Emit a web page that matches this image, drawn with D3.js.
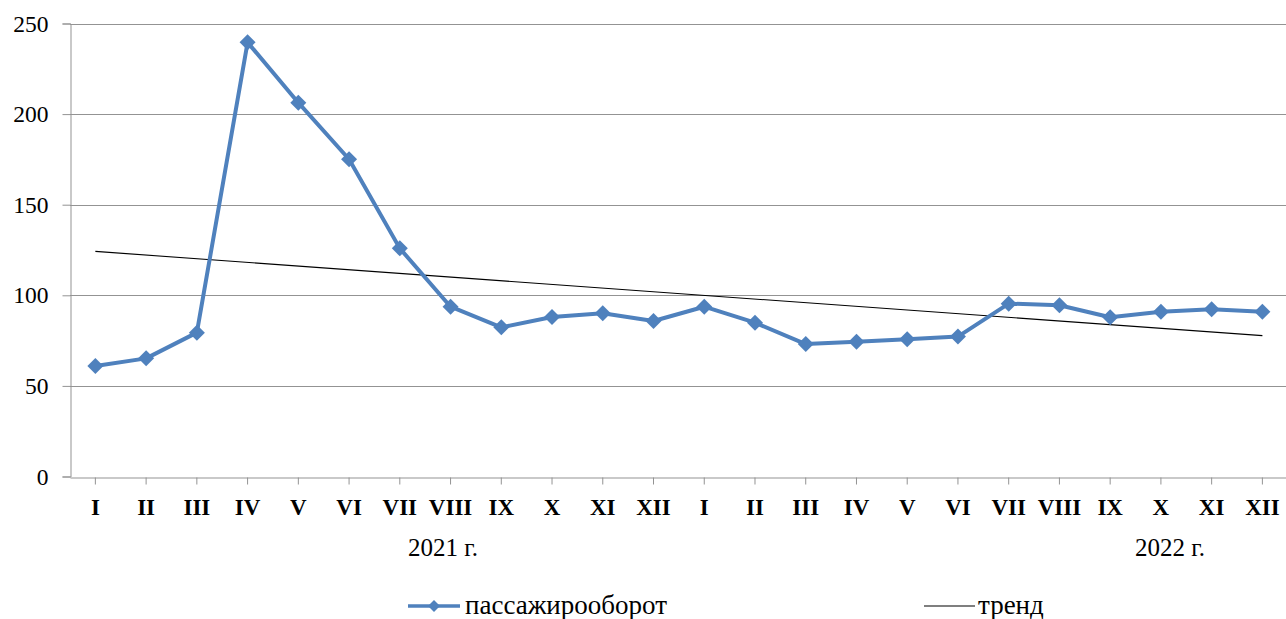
<!DOCTYPE html>
<html>
<head>
<meta charset="utf-8">
<script src="https://cdn.jsdelivr.net/npm/d3@7"></script>
<style>
  html, body { margin: 0; padding: 0; background: #fff; }
  svg { display: block; font-family: "Liberation Serif", "Times New Roman", serif; }
</style>
</head>
<body>
<div id="chart"></div>
<script>
// months, two years
const monthLabels = ['I', 'II', 'III', 'IV', 'V', 'VI', 'VII', 'VIII', 'IX', 'X', 'XI', 'XII',
                     'I', 'II', 'III', 'IV', 'V', 'VI', 'VII', 'VIII', 'IX', 'X', 'XI', 'XII'];
const passengerTurnover = [61.0, 65.2, 79.4, 239.6, 206.3, 175.1, 125.9, 93.7, 82.3, 88.0, 90.1, 85.8,
                           93.7, 84.9, 73.1, 74.4, 75.8, 77.2, 95.4, 94.5, 87.9, 90.9, 92.3, 90.9];
const yTicks = [0, 50, 100, 150, 200, 250];
const yearLabels = ['2021 г.', '2022 г.'];
const seriesName = 'пассажирооборот';
const trendName = 'тренд';

const width = 1286;
const height = 619;
const blue = '#4F81BD';
const grid = '#939393';
const serif = '"Liberation Serif", "Times New Roman", serif';

const svg = d3.select('#chart')
  .append('svg')
  .attr('width', width)
  .attr('height', height);

/* Scales */
const idx = d3.range(passengerTurnover.length);
const x = d3.scaleBand()
  .domain(idx)
  .range([70, 70 + 24 * 50.74]);
const cx = i => x(i) + x.bandwidth() / 2;

const y = d3.scaleLinear()
  .domain([0, 250])
  .range([476.5, 23.5]);

/* Grid lines */
svg.append('g')
  .selectAll('line')
  .data(yTicks.filter(d => d > 0))
  .enter()
  .append('line')
  .attr('x1', 70)
  .attr('x2', width)
  .attr('y1', d => Math.round(y(d)) + 0.5)
  .attr('y2', d => Math.round(y(d)) + 0.5)
  .attr('stroke', grid)
  .attr('stroke-width', 1);

/* Axes (axis() writes its own font attrs, so set them after the call) */
const yAxis = d3.axisLeft(y).tickValues(yTicks).tickSize(8).tickPadding(14);
const gy = svg.append('g')
  .attr('transform', 'translate(70.5, 0)')
  .call(yAxis)
  .attr('font-family', serif)
  .attr('font-size', 23.5);
gy.select('.domain').attr('stroke', grid);
gy.selectAll('.tick line').attr('stroke', grid);
gy.selectAll('.tick text').attr('fill', '#000');

const xAxis = d3.axisBottom(x)
  .tickFormat(i => monthLabels[i])
  .tickSize(7)
  .tickSizeOuter(0)
  .tickPadding(14);
const gx = svg.append('g')
  .attr('transform', `translate(0, ${Math.round(y(0)) + 0.5})`)
  .call(xAxis)
  .attr('font-family', serif)
  .attr('font-size', 23)
  .attr('font-weight', 'bold');
gx.select('.domain').attr('stroke', grid);
gx.selectAll('.tick line').attr('stroke', grid);
gx.selectAll('.tick text').attr('fill', '#000');

/* Trend: least squares over the series */
const n = passengerTurnover.length;
const mx = d3.mean(idx);
const my = d3.mean(passengerTurnover);
const slope = d3.sum(idx, i => (i - mx) * (passengerTurnover[i] - my)) / d3.sum(idx, i => (i - mx) ** 2);
const icpt = my - slope * mx;

svg.append('line')
  .attr('x1', cx(0))
  .attr('y1', y(icpt))
  .attr('x2', cx(n - 1))
  .attr('y2', y(icpt + slope * (n - 1)))
  .attr('stroke', '#000')
  .attr('stroke-width', 1.1);

/* Series line + markers */
const line = d3.line()
  .x((d, i) => cx(i))
  .y(d => y(d));

svg.append('path')
  .datum(passengerTurnover)
  .attr('d', line)
  .attr('fill', 'none')
  .attr('stroke', blue)
  .attr('stroke-width', 4)
  .attr('stroke-linejoin', 'round');

const diamond = s => `M0,${-s}L${s},0L0,${s}L${-s},0Z`;

svg.append('g')
  .selectAll('path')
  .data(passengerTurnover)
  .enter()
  .append('path')
  .attr('transform', (d, i) => `translate(${cx(i)}, ${y(d)})`)
  .attr('d', diamond(8))
  .attr('fill', blue);

/* Year captions */
svg.append('text')
  .attr('x', 408)
  .attr('y', 556)
  .attr('font-family', serif)
  .attr('font-size', 25)
  .text(yearLabels[0]);

svg.append('text')
  .attr('x', 1135)
  .attr('y', 556)
  .attr('font-family', serif)
  .attr('font-size', 25)
  .text(yearLabels[1]);

/* Legend */
const lg = svg.append('g')
  .attr('font-family', serif)
  .attr('font-size', 27);
lg.append('line')
  .attr('x1', 408).attr('x2', 460)
  .attr('y1', 606).attr('y2', 606)
  .attr('stroke', blue)
  .attr('stroke-width', 3.5);
lg.append('path')
  .attr('transform', 'translate(434, 606)')
  .attr('d', diamond(6))
  .attr('fill', blue);
lg.append('text')
  .attr('x', 465)
  .attr('y', 614)
  .text(seriesName);

lg.append('line')
  .attr('x1', 924).attr('x2', 975)
  .attr('y1', 606).attr('y2', 606)
  .attr('stroke', '#000')
  .attr('stroke-width', 1.1);
lg.append('text')
  .attr('x', 978)
  .attr('y', 614)
  .text(trendName);
</script>
</body>
</html>
